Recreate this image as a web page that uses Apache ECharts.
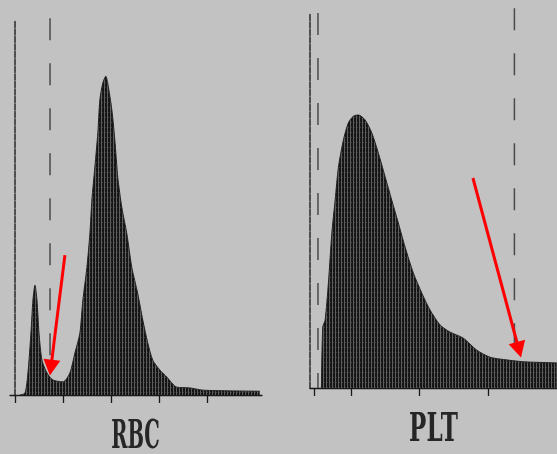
<!DOCTYPE html>
<html>
<head>
<meta charset="utf-8">
<script src="https://cdn.jsdelivr.net/npm/echarts@6/dist/echarts.min.js"></script>
<style>
  html, body { margin: 0; padding: 0; background: #c2c2c2; }
  #chart { width: 557px; height: 454px; }
</style>
</head>
<body>
<div id="chart"></div>
<script>
// ---------- RBC histogram (x in fL, y relative count) ----------
const rbcTicks = [0, 50, 100, 150, 200];
const rbcX = [5.2, 10.4, 13.5, 16.6, 18.7, 20.8, 22.9, 25, 28.1, 33.3, 39.5, 49.9, 57.2, 62.4, 67.6, 70.7, 74.9, 78, 80.1, 83.2, 86.3, 88.4, 91.5, 94.6, 96.7, 100.9, 104, 107.1, 111.3, 116.5, 121.7, 127.9, 133.1, 138.3, 143.5, 150.8, 158.1, 168.5, 182, 195.6, 226.8, 254.9];
const rbcY = [0, 0.5, 5.9, 16.5, 25.3, 29.3, 25.3, 16.5, 9.3, 5.9, 4, 3.5, 5.9, 11.2, 16.5, 25.3, 34, 43, 52, 60.8, 69.9, 78.7, 83.2, 85, 83, 76, 68, 58, 50, 43, 34, 27, 20, 13.9, 9.3, 6.7, 4.8, 2.1, 1.9, 1.3, 1.1, 1];
const rbcGates = [36.5];
const rbcArrowFrom = [52, 37.3];
const rbcArrowTo = [37.4, 7.3];

// ---------- PLT histogram ----------
const pltTicks = [2.3, 5, 10, 15];
const pltX = [2.85, 2.95, 3.12, 3.36, 3.61, 3.85, 4.09, 4.45, 4.81, 5.18, 5.54, 6.03, 6.52, 7.0, 7.49, 7.97, 8.45, 8.94, 9.55, 10.16, 10.76, 11.49, 12.22, 13.18, 14.16, 15.13, 16.1, 17.55, 19.98];
const pltY = [0, 16.3, 18.1, 28, 41.3, 50.1, 58.9, 66.1, 70.7, 72.5, 72.8, 71.5, 68, 62.6, 56.3, 50.1, 44, 37.6, 30.6, 25.3, 20.8, 16.8, 14.9, 13.3, 10.1, 8.2, 7.6, 7, 6.7];
const pltGates = [2.6, 16.9];
const pltArrowFrom = [13.88, 56];
const pltArrowTo = [17.23, 10.2];

const gateTop = [100.5, 100, 101.3];

// panel titles
const titles = ['RBC', 'PLT'];

function zip(a, b) { return a.map((v, i) => [v, b[i]]); }

// stripe fill pattern (style only)
const pc = document.createElement('canvas');
pc.width = 3; pc.height = 5;
const g = pc.getContext('2d');
g.fillStyle = '#151515'; g.fillRect(0, 0, 3, 5);
g.fillStyle = '#5e5e5e'; g.fillRect(2, 0, 1, 5);
g.fillStyle = '#3a3a3a'; g.fillRect(0, 2, 1, 1);
const stripe = { image: pc, repeat: 'repeat' };

// title glyph box fitting (style only)
const labelFont = 'bold 24px "DejaVu Serif"';
const boxes = [
  { cx: 135.5, cy: 433, w: 47, h: 30 },
  { cx: 434, cy: 426.5, w: 48, h: 29 }
];
const mc = document.createElement('canvas').getContext('2d');
mc.font = labelFont;
mc.textAlign = 'center';
mc.textBaseline = 'middle';
function titleGraphic(text, b) {
  const m = mc.measureText(text);
  const inkW = m.actualBoundingBoxLeft + m.actualBoundingBoxRight;
  const inkH = m.actualBoundingBoxAscent + m.actualBoundingBoxDescent;
  const sx = b.w / inkW, sy = b.h / inkH;
  const offX = (m.actualBoundingBoxRight - m.actualBoundingBoxLeft) / 2;
  const offY = (m.actualBoundingBoxDescent - m.actualBoundingBoxAscent) / 2;
  return {
    type: 'text', x: b.cx - sx * offX, y: b.cy - sy * offY, scaleX: sx, scaleY: sy, silent: true,
    style: { text: text, font: labelFont, fill: '#262626', align: 'center', verticalAlign: 'middle' }
  };
}

const chart = echarts.init(document.getElementById('chart'), null, { renderer: 'canvas' });

const axisLineY = { show: true, lineStyle: { color: '#2a2a2a', width: 1.5, type: [6, 1.5] } };

function xAxisCfg(idx, min, max, ticks) {
  return {
    type: 'value', gridIndex: idx, min: min, max: max,
    axisLine: { show: true, onZero: false, lineStyle: { color: '#1a1a1a', width: 1.3 } },
    axisTick: { show: true, length: 8, inside: false, customValues: ticks, lineStyle: { color: '#1a1a1a', width: 1.3 } },
    axisLabel: { show: false },
    splitLine: { show: false }
  };
}
function yAxisCfg(idx) {
  return {
    type: 'value', gridIndex: idx, min: 0, max: 100,
    axisLine: axisLineY,
    axisTick: { show: false }, axisLabel: { show: false }, splitLine: { show: false }
  };
}

function gateSeries(xi, x, top) {
  return {
    type: 'line', xAxisIndex: xi, yAxisIndex: xi, silent: true, clip: false,
    symbol: 'none', z: 1,
    data: [[x, top], [x, 0]],
    lineStyle: { color: '#4a4a4a', width: 1.5, type: [22, 23] }
  };
}

function arrowMark(from, to) {
  return {
    silent: true, symbol: ['none', 'triangle'], symbolSize: [17, 16],
    label: { show: false },
    itemStyle: { color: '#ff0000' },
    lineStyle: { color: '#ff0000', width: 3, type: 'solid' },
    data: [[{ coord: from }, { coord: to }]]
  };
}

chart.setOption({
  backgroundColor: '#c2c2c2',
  animation: false,
  grid: [
    { left: 10, top: 20, width: 252, height: 375, outerBoundsMode: 'none' },
    { left: 310, top: 13, width: 247, height: 375, outerBoundsMode: 'none' }
  ],
  xAxis: [
    xAxisCfg(0, -5.2, 257.3, rbcTicks),
    xAxisCfg(1, 2.02, 20, pltTicks)
  ],
  yAxis: [yAxisCfg(0), yAxisCfg(1)],
  series: [
    gateSeries(0, rbcGates[0], gateTop[0]),
    gateSeries(1, pltGates[0], gateTop[1]),
    gateSeries(1, pltGates[1], gateTop[2]),
    {
      name: 'RBC', type: 'line', xAxisIndex: 0, yAxisIndex: 0, z: 3,
      symbol: 'none', smooth: 0.25,
      data: zip(rbcX, rbcY),
      lineStyle: { color: '#222', width: 1 },
      areaStyle: { color: stripe, opacity: 1 },
      markLine: arrowMark(rbcArrowFrom, rbcArrowTo)
    },
    {
      name: 'PLT', type: 'line', xAxisIndex: 1, yAxisIndex: 1, z: 3,
      symbol: 'none', smooth: 0.25,
      data: zip(pltX, pltY),
      lineStyle: { color: '#222', width: 1 },
      areaStyle: { color: stripe, opacity: 1 },
      markLine: arrowMark(pltArrowFrom, pltArrowTo)
    }
  ],
  graphic: [titleGraphic(titles[0], boxes[0]), titleGraphic(titles[1], boxes[1])]
});
</script>
</body>
</html>
